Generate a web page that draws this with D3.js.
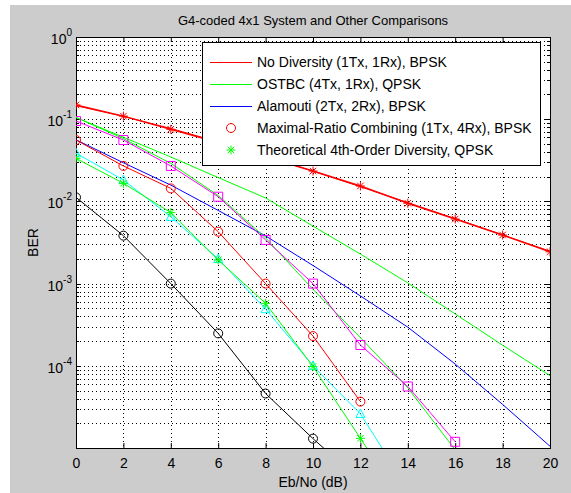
<!DOCTYPE html>
<html>
<head>
<meta charset="utf-8">
<script src="https://cdn.jsdelivr.net/npm/d3@7"></script>
<style>
  body { margin: 0; background: #fff; }
  text { font-family: "Liberation Sans", Arial, sans-serif; fill: #000; }
</style>
</head>
<body>
<svg id="chart" width="571" height="493"></svg>
<script>
// values
const ebno = [0, 2, 4, 6, 8, 10, 12, 14, 16, 18, 20];
const noDivTheory = [0.146, 0.108, 0.0771, 0.053, 0.0355, 0.0233, 0.0151, 0.00967, 0.00617, 0.00391, 0.00248];
const noDivSim = [0.149, 0.109, 0.0753, 0.052, 0.035, 0.0234, 0.0154, 0.0095, 0.0061, 0.0039, 0.00244];
const ostbcBer = [0.105, 0.0603, 0.0347, 0.0195, 0.011, 0.005, 0.00229, 0.00102, 0.000427, 0.000178, 0.000076];
const alamoutiBer = [0.0562, 0.0295, 0.0158, 0.00776, 0.0038, 0.00166, 0.000708, 0.000295, 0.000105, 0.0000339, 0.0000105];

const mrcEbno = [0, 2, 4, 6, 8, 10, 12];
const mrcBer = [0.0558, 0.027, 0.0144, 0.00428, 0.001, 0.00023, 0.0000367];

const g4Ebno = [0, 2, 4, 6, 8, 10, 12, 14, 16];
const g4Sim = [0.095, 0.0558, 0.027, 0.0114, 0.0034, 0.001, 0.000179, 0.000056, 0.0000119];
const g4Theory = [0.105, 0.058, 0.029, 0.0118, 0.0036, 0.00085, 0.00022, 0.000054, 0.0000095];

const div4Ebno = [0, 2, 4, 6, 8, 10, 12, 14];
const div4Ber = [0.0334, 0.0166, 0.0073, 0.00194, 0.000575, 0.000098, 0.0000131, 0.0000017];
const cyanBer = [0.0386, 0.0182, 0.0065, 0.002, 0.00049, 0.0001, 0.000026, 0.0000032];

const blackEbno = [0, 2, 4, 6, 8, 10, 12];
const blackBer = [0.0112, 0.00383, 0.001, 0.000248, 0.000046, 0.000013, 0.000004];

const xTicks = [0, 2, 4, 6, 8, 10, 12, 14, 16, 18, 20];
const yExps = [0, -1, -2, -3, -4];

const legendNames = [
  "No Diversity (1Tx, 1Rx), BPSK",
  "OSTBC (4Tx, 1Rx), QPSK",
  "Alamouti (2Tx, 2Rx), BPSK",
  "Maximal-Ratio Combining (1Tx, 4Rx), BPSK",
  "Theoretical 4th-Order Diversity, QPSK"
];

const svg = d3.select("#chart");
const plot = { left: 76, right: 550, top: 37, bottom: 448 };

const x = d3.scaleLinear().domain([0, 20]).range([plot.left, plot.right]);
const y = d3.scaleLog().domain([1e-5, 1]).range([plot.bottom, plot.top]);

// figure background
svg.append("rect").attr("x", 10).attr("y", 5).attr("width", 561).attr("height", 488).attr("fill", "#cccccc");
svg.append("rect")
  .attr("x", plot.left).attr("y", plot.top)
  .attr("width", plot.right - plot.left).attr("height", plot.bottom - plot.top)
  .attr("fill", "#fff");

svg.append("clipPath").attr("id", "clip")
  .append("rect")
  .attr("x", plot.left).attr("y", plot.top)
  .attr("width", plot.right - plot.left).attr("height", plot.bottom - plot.top);

// grid
const yGrid = [];
for (let e = -5; e < 0; e++) {
  for (let k = 1; k <= 9; k++) yGrid.push(k * Math.pow(10, e));
}
const grid = svg.append("g").attr("stroke", "#000").attr("stroke-dasharray", "1,3").attr("stroke-width", 1);
grid.selectAll(".vg").data(xTicks.slice(1, -1)).enter().append("line")
  .attr("x1", d => Math.round(x(d)) + 0.5).attr("x2", d => Math.round(x(d)) + 0.5)
  .attr("y1", plot.top).attr("y2", plot.bottom);
grid.selectAll(".hg").data(yGrid.slice(1)).enter().append("line")
  .attr("y1", d => Math.round(y(d)) + 0.5).attr("y2", d => Math.round(y(d)) + 0.5)
  .attr("x1", plot.left).attr("x2", plot.right);

// axes ticks (inside)
const xAxisB = d3.axisBottom(x).tickValues(xTicks).tickSize(-5).tickFormat(d => d);
const xAxisT = d3.axisTop(x).tickValues(xTicks).tickSize(-5).tickFormat("");
svg.append("g").attr("class", "xAxis").attr("transform", `translate(0,${plot.bottom})`).call(xAxisB);
svg.append("g").attr("transform", `translate(0,${plot.top})`).call(xAxisT);

const majors = yExps.map(e => Math.pow(10, e)).concat([1e-5]);
const minors = yGrid.filter(v => !majors.some(m => Math.abs(m - v) / v < 1e-9));
[["left", plot.left, 1], ["right", plot.right, -1]].forEach(([side, px, dir]) => {
  const g = svg.append("g").attr("stroke", "#000");
  g.selectAll(".mj").data(majors).enter().append("line")
    .attr("x1", px).attr("x2", px + dir * 5)
    .attr("y1", d => Math.round(y(d)) + 0.5).attr("y2", d => Math.round(y(d)) + 0.5);
  g.selectAll(".mn").data(minors).enter().append("line")
    .attr("x1", px).attr("x2", px + dir * 3)
    .attr("y1", d => Math.round(y(d)) + 0.5).attr("y2", d => Math.round(y(d)) + 0.5);
});

svg.selectAll(".xAxis text").attr("y", 10).style("font-size", "14px").style("font-family", "Liberation Sans, Arial, sans-serif");
svg.selectAll(".domain").remove();

// y labels 10^n
const yl = svg.append("g");
yExps.forEach(e => {
  const t = yl.append("text").attr("x", 72).attr("y", y(Math.pow(10, e)) + 7)
    .attr("text-anchor", "end").style("font-size", "14px");
  t.append("tspan").text("10");
  t.append("tspan").attr("dy", -8).style("font-size", "10px").text(String(e));
});

// frame
svg.append("rect")
  .attr("x", plot.left + 0.5).attr("y", plot.top + 0.5)
  .attr("width", plot.right - plot.left).attr("height", plot.bottom - plot.top)
  .attr("fill", "none").attr("stroke", "#000");

// series
const lines = svg.append("g").attr("clip-path", "url(#clip)").attr("fill", "none");
const line = (xs) => d3.line().x((d, i) => x(xs[i])).y(d => y(d));

function drawLine(xs, ys, color, w) {
  lines.append("path").datum(ys).attr("d", line(xs)).attr("stroke", color).attr("stroke-width", w || 1);
}

function markerPath(type, s) {
  const h = s / 2;
  if (type === "circle") return `M${h},0A${h},${h} 0 1,1 ${-h},0A${h},${h} 0 1,1 ${h},0Z`;
  if (type === "square") return `M${-h},${-h}H${h}V${h}H${-h}Z`;
  if (type === "triangle") return `M0,${-h * 1.1}L${h},${h * 0.8}L${-h},${h * 0.8}Z`;
  const d = h * 0.72;
  return `M${-h},0H${h}M0,${-h}V${h}M${-d},${-d}L${d},${d}M${-d},${d}L${d},${-d}`;
}

function drawMarkers(xs, ys, type, color, s) {
  lines.append("g").selectAll("path").data(ys).enter().append("path")
    .attr("transform", (d, i) => `translate(${x(xs[i])},${y(d)})`)
    .attr("d", markerPath(type, s))
    .attr("stroke", color).attr("fill", "none").attr("stroke-width", 1);
}

drawLine(ebno, ostbcBer, "#00ff00");
drawLine(ebno, alamoutiBer, "#0000ff");
drawLine(g4Ebno, g4Theory, "#00ff00");
drawLine(g4Ebno, g4Sim, "#ff00ff");
drawMarkers(g4Ebno, g4Sim, "square", "#ff00ff", 9);
drawLine(div4Ebno, cyanBer, "#00ffff");
drawMarkers(div4Ebno.slice(0, 7), cyanBer.slice(0, 7), "triangle", "#00ffff", 9);
drawLine(div4Ebno, div4Ber, "#00ff00");
drawMarkers(div4Ebno.slice(0, 7), div4Ber.slice(0, 7), "star", "#00ff00", 9);
drawLine(blackEbno, blackBer, "#000000");
drawMarkers(blackEbno.slice(0, 6), blackBer.slice(0, 6), "circle", "#000000", 9);
drawLine(mrcEbno, mrcBer, "#ff0000");
drawMarkers(mrcEbno, mrcBer, "circle", "#ff0000", 9);
drawLine(ebno, noDivTheory, "#ff0000", 1);
drawLine(ebno, noDivSim, "#ff0000", 1.5);
drawMarkers(ebno, noDivSim, "star", "#ff0000", 9);

// legend
const lg = svg.append("g");
lg.append("rect").attr("x", 202.5).attr("y", 42.5).attr("width", 338).attr("height", 123)
  .attr("fill", "#fff").attr("stroke", "#000");
const legendStyle = [
  { color: "#ff0000", kind: "line" },
  { color: "#00ff00", kind: "line" },
  { color: "#0000ff", kind: "line" },
  { color: "#ff0000", kind: "circle" },
  { color: "#00ff00", kind: "star" }
];
legendNames.forEach((name, i) => {
  const cy = 62 + i * 22;
  const st = legendStyle[i];
  if (st.kind === "line") {
    lg.append("line").attr("x1", 210).attr("x2", 252).attr("y1", cy + 0.5).attr("y2", cy + 0.5)
      .attr("stroke", st.color);
  } else {
    lg.append("path").attr("transform", `translate(231,${cy})`).attr("d", markerPath(st.kind, 9))
      .attr("stroke", st.color).attr("fill", "none");
  }
  lg.append("text").attr("x", 257).attr("y", cy + 5).style("font-size", "14px").text(name);
});

// titles
svg.append("text").attr("x", 313).attr("y", 25).attr("text-anchor", "middle")
  .style("font-size", "13px").text("G4-coded 4x1 System and Other Comparisons");
svg.append("text").attr("x", 313).attr("y", 487).attr("text-anchor", "middle")
  .style("font-size", "14px").text("Eb/No (dB)");
svg.append("text").attr("transform", `translate(38,${(plot.top + plot.bottom) / 2}) rotate(-90)`)
  .attr("text-anchor", "middle").style("font-size", "14px").text("BER");
</script>
</body>
</html>
